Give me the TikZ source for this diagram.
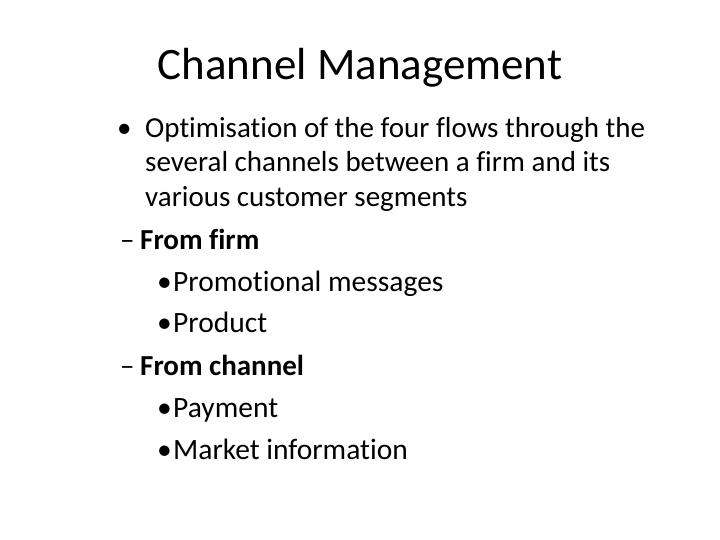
\documentclass[tikz,border=0pt]{standalone}
\usepackage{fontspec}
\setmainfont[Ligatures={NoCommon}]{Carlito}
\begin{document}
\begin{tikzpicture}[x=1pt,y=-1pt,
  txt/.style={anchor=base west,inner sep=0pt,font=\fontsize{29}{34}\selectfont},
  sub/.style={anchor=base west,inner sep=0pt,font=\fontsize{29.5}{34}\selectfont}]
\useasboundingbox (0,0) rectangle (720,540);
\node[anchor=base,inner sep=0pt,font=\fontsize{45}{50}\selectfont] (title) at (360,80) {Channel Management};
\node[txt] (b1) at (117,138) {•};
\node[txt] (l1) at (145,138) {Optimisation of the four flows through the};
\node[txt] (l2) at (145,172) {several channels between a firm and its};
\node[txt] (l3) at (145,207) {various customer segments};
\node[txt] (d1) at (120,249) {–};
\node[txt] (f1) at (140,249) {\bfseries From firm};
\node[sub] (s1b) at (157,291) {•};
\node[sub] (s1) at (173,291) {Promotional messages};
\node[sub] (s2b) at (157,332) {•};
\node[sub] (s2) at (173,332) {Product};
\node[txt] (d2) at (120,375) {–};
\node[txt] (f2) at (140,375) {\bfseries From channel};
\node[sub] (s3b) at (157,417) {•};
\node[sub] (s3) at (173,417) {Payment};
\node[sub] (s4b) at (157,459) {•};
\node[sub] (s4) at (173,459) {Market information};
\end{tikzpicture}
\end{document}
